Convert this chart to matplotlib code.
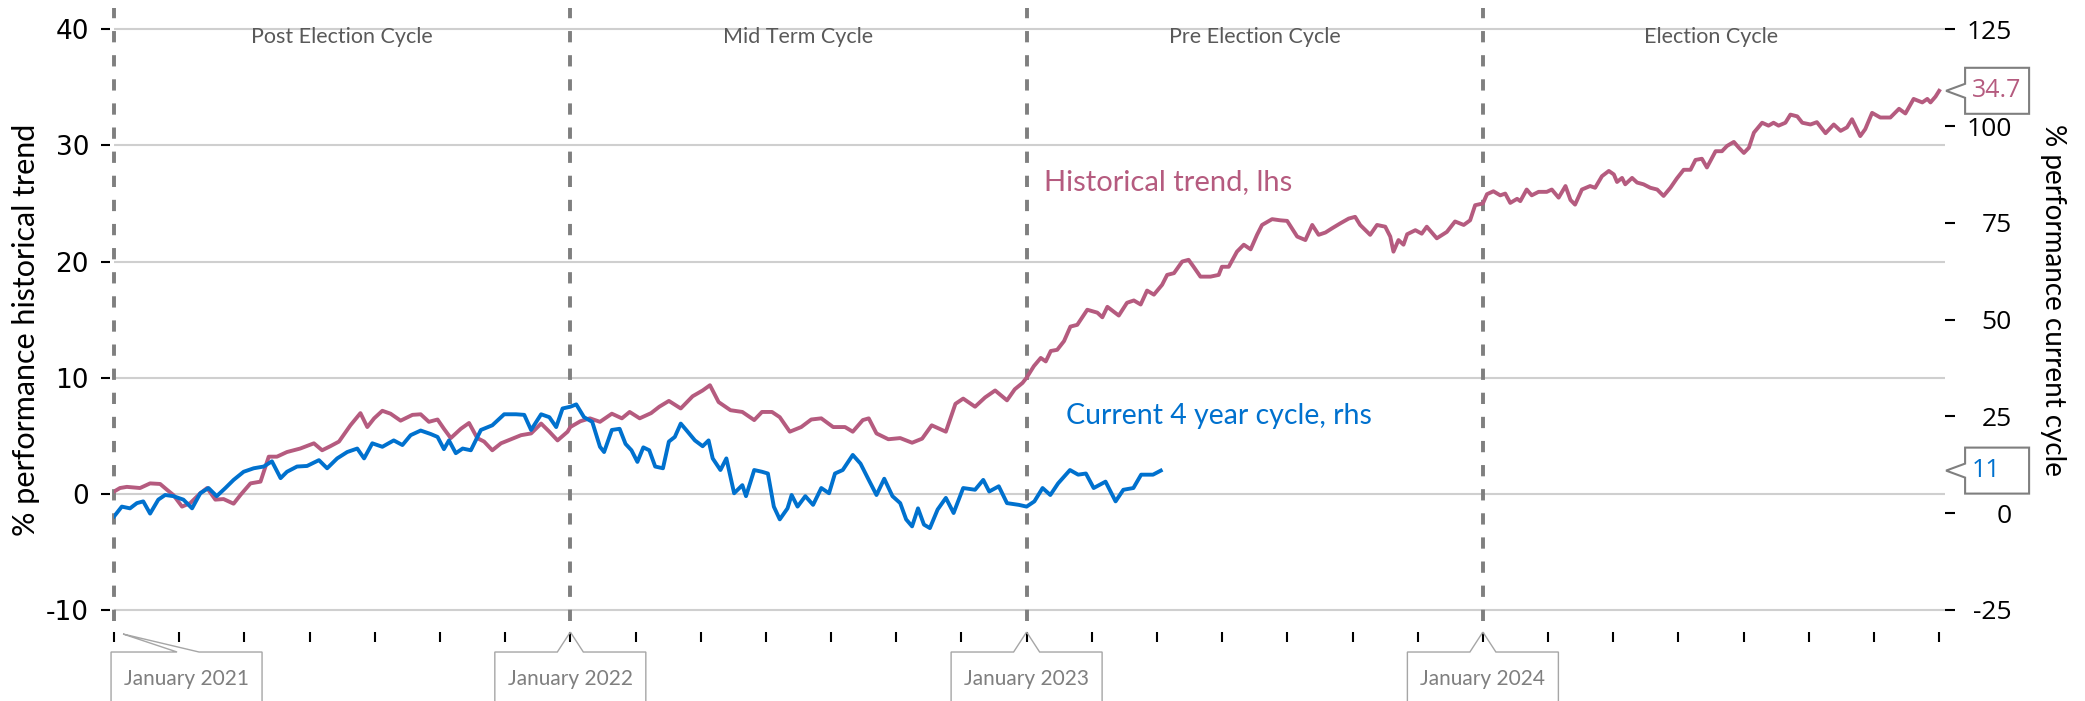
import numpy as np
import matplotlib.pyplot as plt
from matplotlib.patches import Polygon
import matplotlib.transforms as mtransforms

# historical trend (lhs), x in years since January 2021
hist_t = [0.000, 0.013, 0.028, 0.057, 0.079, 0.101, 0.116, 0.130, 0.149, 0.167,
          0.189, 0.204, 0.222, 0.240, 0.262, 0.277, 0.299, 0.321, 0.339, 0.357,
          0.379, 0.408, 0.438, 0.456, 0.474, 0.493, 0.518, 0.540, 0.555, 0.570,
          0.588, 0.606, 0.628, 0.654, 0.672, 0.690, 0.709, 0.723, 0.738, 0.760,
          0.778, 0.796, 0.811, 0.829, 0.848, 0.870, 0.892, 0.914, 0.936, 0.954,
          0.972, 0.994, 1.000, 1.022, 1.043, 1.065, 1.091, 1.113, 1.130, 1.152,
          1.177, 1.195, 1.216, 1.242, 1.268, 1.290, 1.306, 1.325, 1.351, 1.377,
          1.403, 1.420, 1.442, 1.459, 1.481, 1.506, 1.528, 1.550, 1.576, 1.602,
          1.619, 1.641, 1.654, 1.671, 1.697, 1.723, 1.749, 1.771, 1.792, 1.823,
          1.844, 1.861, 1.887, 1.909, 1.931, 1.957, 1.974, 1.991, 2.000, 2.016,
          2.031, 2.042, 2.053, 2.067, 2.082, 2.096, 2.111, 2.133, 2.155, 2.166,
          2.177, 2.202, 2.220, 2.235, 2.250, 2.264, 2.279, 2.297, 2.308, 2.323,
          2.341, 2.355, 2.366, 2.381, 2.403, 2.421, 2.428, 2.443, 2.461, 2.476,
          2.491, 2.505, 2.516, 2.538, 2.556, 2.571, 2.593, 2.611, 2.626, 2.640,
          2.655, 2.669, 2.688, 2.706, 2.720, 2.731, 2.753, 2.768, 2.786, 2.797,
          2.804, 2.815, 2.826, 2.834, 2.852, 2.866, 2.877, 2.899, 2.921, 2.939,
          2.958, 2.972, 2.983, 3.000, 3.009, 3.023, 3.038, 3.049, 3.060, 3.075,
          3.082, 3.096, 3.107, 3.122, 3.140, 3.151, 3.166, 3.181, 3.192, 3.202,
          3.217, 3.235, 3.246, 3.261, 3.276, 3.287, 3.294, 3.305, 3.312, 3.327,
          3.338, 3.352, 3.367, 3.382, 3.396, 3.411, 3.425, 3.440, 3.455, 3.466,
          3.480, 3.491, 3.510, 3.524, 3.535, 3.550, 3.561, 3.572, 3.583, 3.594,
          3.612, 3.626, 3.637, 3.648, 3.663, 3.674, 3.689, 3.700, 3.718, 3.732,
          3.751, 3.769, 3.784, 3.798, 3.809, 3.827, 3.838, 3.853, 3.871, 3.893,
          3.912, 3.926, 3.944, 3.963, 3.974, 3.981, 3.992, 4.000]
hist_val = [0.2, 0.5, 0.6, 0.5, 0.9, 0.85, 0.35, -0.1, -1.1, -0.8,
            0.05, 0.5, -0.5, -0.45, -0.85, -0.1, 0.9, 1.05, 3.2, 3.2,
            3.6, 3.9, 4.35, 3.75, 4.1, 4.5, 5.9, 6.95, 5.75, 6.5,
            7.15, 6.9, 6.3, 6.8, 6.85, 6.2, 6.4, 5.6, 4.8, 5.6,
            6.1, 4.8, 4.5, 3.75, 4.35, 4.7, 5.05, 5.2, 6.05, 5.35,
            4.6, 5.35, 5.75, 6.25, 6.5, 6.2, 6.9, 6.5, 7.05, 6.5,
            6.95, 7.5, 8.0, 7.35, 8.4, 8.9, 9.35, 7.9, 7.2, 7.05,
            6.35, 7.05, 7.05, 6.6, 5.35, 5.75, 6.4, 6.5, 5.75, 5.75,
            5.35, 6.35, 6.5, 5.2, 4.7, 4.8, 4.4, 4.75, 5.9, 5.35,
            7.75, 8.2, 7.5, 8.3, 8.9, 8.05, 9.0, 9.55, 10.0, 11.0,
            11.7, 11.4, 12.3, 12.4, 13.15, 14.4, 14.55, 15.85, 15.6, 15.2,
            16.1, 15.35, 16.45, 16.65, 16.3, 17.5, 17.15, 18.0, 18.85, 19.0,
            20.0, 20.15, 19.55, 18.7, 18.7, 18.85, 19.55, 19.55, 20.85, 21.45,
            21.05, 22.3, 23.15, 23.65, 23.55, 23.5, 22.15, 21.85, 23.15, 22.3,
            22.5, 22.85, 23.3, 23.7, 23.85, 23.15, 22.3, 23.15, 23.0, 22.15,
            20.85, 21.85, 21.45, 22.35, 22.7, 22.4, 23.0, 22.0, 22.55, 23.45,
            23.15, 23.55, 24.85, 25.0, 25.8, 26.05, 25.7, 25.85, 25.05, 25.4,
            25.2, 26.2, 25.7, 26.0, 26.0, 26.2, 25.5, 26.5, 25.3, 24.9,
            26.2, 26.5, 26.35, 27.35, 27.8, 27.5, 26.85, 27.2, 26.65, 27.2,
            26.8, 26.65, 26.35, 26.2, 25.65, 26.35, 27.15, 27.9, 27.9, 28.75,
            28.85, 28.1, 29.5, 29.5, 29.95, 30.3, 29.8, 29.35, 29.8, 31.1,
            31.95, 31.7, 31.95, 31.7, 31.95, 32.65, 32.5, 31.95, 31.8, 32.0,
            31.05, 31.8, 31.25, 31.55, 32.25, 30.8, 31.4, 32.8, 32.4, 32.4,
            33.15, 32.75, 34.0, 33.7, 34.0, 33.7, 34.2, 34.7]

# current 4 year cycle (rhs)
curr_t = [0.000, 0.017, 0.035, 0.050, 0.064, 0.079, 0.097, 0.112, 0.130, 0.152,
          0.171, 0.189, 0.207, 0.225, 0.244, 0.262, 0.284, 0.306, 0.328, 0.346,
          0.365, 0.379, 0.401, 0.423, 0.449, 0.467, 0.489, 0.511, 0.533, 0.548,
          0.566, 0.588, 0.613, 0.632, 0.650, 0.672, 0.694, 0.709, 0.723, 0.734,
          0.749, 0.764, 0.782, 0.804, 0.829, 0.855, 0.881, 0.899, 0.914, 0.936,
          0.954, 0.969, 0.983, 1.000, 1.013, 1.030, 1.048, 1.065, 1.074, 1.091,
          1.108, 1.121, 1.134, 1.147, 1.160, 1.173, 1.186, 1.203, 1.216, 1.229,
          1.242, 1.255, 1.273, 1.290, 1.303, 1.312, 1.329, 1.342, 1.359, 1.377,
          1.385, 1.403, 1.420, 1.433, 1.446, 1.459, 1.476, 1.485, 1.498, 1.515,
          1.532, 1.550, 1.567, 1.580, 1.597, 1.619, 1.636, 1.654, 1.671, 1.688,
          1.706, 1.723, 1.736, 1.749, 1.762, 1.775, 1.788, 1.805, 1.823, 1.840,
          1.861, 1.887, 1.905, 1.918, 1.939, 1.957, 1.983, 2.000, 2.017, 2.035,
          2.052, 2.069, 2.095, 2.113, 2.130, 2.147, 2.173, 2.195, 2.212, 2.234,
          2.251, 2.277, 2.294]
curr_val = [-0.85, 1.7, 1.25, 2.6, 3.05, -0.1, 3.5, 4.7, 4.4, 3.5,
            1.25, 5.15, 6.5, 4.4, 6.5, 8.6, 10.7, 11.6, 12.05, 13.4,
            9.05, 10.7, 12.05, 12.2, 13.7, 11.6, 14.15, 15.8, 16.7, 14.15,
            18.05, 17.15, 18.8, 17.6, 20.15, 21.35, 20.45, 19.7, 16.55, 18.8,
            15.5, 16.7, 16.25, 21.5, 22.7, 25.55, 25.55, 25.4, 21.5, 25.55,
            24.8, 22.25, 27.05, 27.5, 28.1, 24.8, 23.6, 17.15, 15.8, 21.5,
            21.8, 17.9, 16.25, 13.25, 17.0, 16.25, 12.05, 11.6, 18.5, 19.7,
            23.15, 21.35, 18.8, 17.3, 18.8, 14.15, 11.15, 14.15, 5.15, 7.25,
            4.4, 11.15, 10.7, 10.25, 1.7, -1.6, 1.25, 4.7, 1.7, 4.4,
            2.15, 6.5, 5.15, 10.25, 11.15, 15.05, 12.8, 8.6, 4.7, 8.9,
            4.4, 2.6, -1.6, -3.4, 1.25, -2.95, -3.85, 0.95, 3.95, 0.05,
            6.5, 6.05, 8.6, 5.6, 6.95, 2.6, 2.15, 1.7, 3.05, 6.5,
            4.7, 7.7, 11.15, 9.95, 10.25, 6.5, 8.15, 3.05, 6.05, 6.5,
            9.95, 9.95, 11.0]

start_year = 2021
cycle_names = ["Post Election Cycle", "Mid Term Cycle", "Pre Election Cycle", "Election Cycle"]
year_labels = ["January 2021", "January 2022", "January 2023", "January 2024"]
lhs_ticks = [-10, 0, 10, 20, 30, 40]
rhs_ticks = [-25, 0, 25, 50, 75, 100, 125]

PINK = "#B55B7F"
BLUE = "#0071CE"
GREY = "#7F7F7F"
TICK_FONT = "Open Sans"
TEXT_FONT = "Lato"

fig = plt.figure(figsize=(20.85, 7.01), dpi=100)
ax = fig.add_axes([0.0547, 0.1141, 0.8782, 0.8745])
ax2 = ax.twinx()

hx = start_year + np.array(hist_t)
cx = start_year + np.array(curr_t)
ax.plot(hx, hist_val, color=PINK, lw=2.8, zorder=3, solid_joinstyle="round")
ax2.plot(cx, curr_val, color=BLUE, lw=2.8, zorder=3, solid_joinstyle="round")

years = [start_year + i for i in range(4)]
for yr in years:
    ax.axvline(yr, color=GREY, lw=2.8, ls=(0, (2.9, 3.3)), zorder=2, clip_on=False)

ax.set_xlim(start_year, start_year + 4.013)
ax.set_ylim(-10.95, 41.83)
ax2.set_ylim(3 * -10.95 + 5, 3 * 41.83 + 5)

ax.set_yticks(lhs_ticks)
ax.set_yticklabels([str(v) for v in lhs_ticks])
ax2.set_yticks(rhs_ticks)
ax2.set_yticklabels([str(v) for v in rhs_ticks])
ax.grid(axis="y", color="#CFCFCF", lw=1.5)
ax.set_axisbelow(True)

ax.set_xticks(start_year + np.arange(0, 29) / 7)
ax.tick_params(axis="x", direction="out", length=7.2, width=1.5, labelbottom=False, color="black")
ax.tick_params(axis="y", direction="out", length=6.5, width=1.5, pad=8.6, labelsize=19)
ax2.tick_params(axis="y", direction="out", length=7.2, width=1.5, pad=41, labelsize=19)
for lbl in ax.get_yticklabels() + ax2.get_yticklabels():
    lbl.set_fontfamily(TICK_FONT)
for lbl in ax2.get_yticklabels():
    lbl.set_ha("right")

for a in (ax, ax2):
    for s in a.spines.values():
        s.set_visible(False)
ax.spines["bottom"].set_position(("outward", 7.9))
ax.spines["left"].set_position(("outward", 2.9))

# cycle names on top
top_trans = mtransforms.blended_transform_factory(ax.transData, ax.transAxes)
for yr, name in zip(years, cycle_names):
    ax.text(yr + 0.5, 0.953, name, transform=top_trans, ha="center", va="center",
            fontsize=15.5, color="#595959", family=TEXT_FONT)

ax.text(start_year + 2.039, 26.85, "Historical trend, lhs", color=PINK, fontsize=21,
        family=TEXT_FONT, va="center", ha="left")
ax.text(start_year + 2.087, 6.7, "Current 4 year cycle, rhs", color=BLUE, fontsize=20.5,
        family=TEXT_FONT, va="center", ha="left")

fig.text(26 / 2085, 1 - 330 / 701, "% performance historical trend", rotation=90,
         ha="center", va="center", fontsize=22, family=TEXT_FONT)
fig.text(2053 / 2085, 1 - 300 / 701, "% performance current cycle", rotation=270,
         ha="center", va="center", fontsize=20, family=TEXT_FONT)


def anchored(x, y, base):
    return fig.dpi_scale_trans + mtransforms.ScaledTranslation(x, y, base)


def px(points):
    return [(a / 100, b / 100) for a, b in points]


# date callouts under the axis
bottom_trans = mtransforms.blended_transform_factory(ax.transData, ax.transAxes)
for i, (yr, lab) in enumerate(zip(years, year_labels)):
    tr = anchored(yr, 0, bottom_trans)
    if i == 0:
        verts = [(9, -13), (85, -31), (148, -31), (148, -120), (-3, -120), (-3, -31), (63, -31)]
        cx_text = 72.5
    else:
        verts = [(0, -11), (13, -31), (75.5, -31), (75.5, -120), (-75.5, -120), (-75.5, -31), (-13, -31)]
        cx_text = 0
    fig.patches.append(Polygon(px(verts), closed=True, fill=False, ec="#A6A6A6", lw=1.0,
                               transform=tr, clip_on=False))
    fig.text(cx_text / 100, -0.58, lab, transform=tr, ha="center", va="center",
             fontsize=15, color=GREY, family=TEXT_FONT)

# value callouts on the right
right_lhs = mtransforms.blended_transform_factory(ax.transAxes, ax.transData)
right_rhs = mtransforms.blended_transform_factory(ax2.transAxes, ax2.transData)
for val, base, color, txt in [(hist_val[-1], right_lhs, PINK, f"{hist_val[-1]:.1f}"),
                              (curr_val[-1], right_rhs, BLUE, f"{curr_val[-1]:.0f}")]:
    tr = anchored(1, val, base)
    verts = [(1, 0), (20, 7), (20, 23), (84, 23), (84, -23), (20, -23), (20, -7)]
    fig.patches.append(Polygon(px(verts), closed=True, fc="white", ec=GREY, lw=1.5,
                               transform=tr, clip_on=False))
    fig.text(0.27, 0.0, txt, transform=tr, ha="left", va="center", fontsize=18,
             color=color, family=TICK_FONT)

fig.savefig("out.png", dpi=100)
